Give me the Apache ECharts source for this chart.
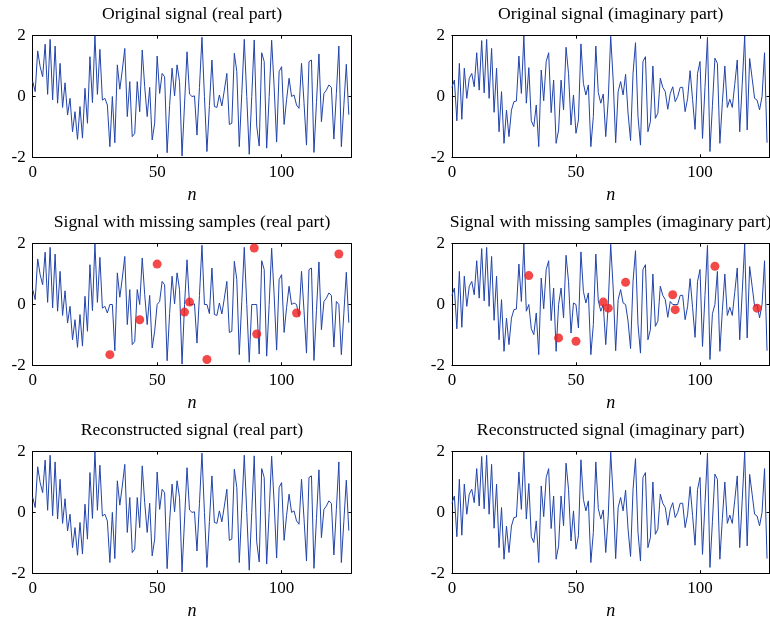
<!DOCTYPE html>
<html><head><meta charset="utf-8">
<script src="https://cdn.jsdelivr.net/npm/echarts@6/dist/echarts.min.js"></script>
<style>html,body{margin:0;padding:0;background:#fff}#c{width:770px;height:623px}</style>
</head><body><div id="c"></div>
<script>
const realPart = [0.5,0.16,1.5,0.98,0.65,1.72,0.07,1.88,-0.11,1.66,-0.22,1.09,-0.36,0.45,-0.61,-0.06,-1.16,-0.5,-1.41,-0.33,
-1.37,0.27,-0.88,1.31,-0.2,2.0,0.07,1.55,-0.12,-0.06,-0.28,-1.65,0.0,-1.52,1.04,0.24,0.87,1.58,-0.66,0.49,
-1.32,-1.21,0.49,-0.5,1.53,0.32,-0.66,0.3,-1.43,-0.88,1.33,0.1,0.76,0.65,-1.85,-0.3,0.93,0.02,1.04,0.49,
-1.96,-0.25,1.47,0.08,0.0,0.02,-1.27,0.3,1.95,0.0,-1.81,-0.3,1.2,-0.33,-0.36,0.05,-0.31,0.21,0.76,-0.92,
-0.88,1.42,0.82,-1.65,0.1,1.88,0.0,-1.9,0.0,1.86,-0.97,-1.63,1.44,1.15,-1.7,0.0,1.85,0.32,-1.5,0.82,
0.98,-0.92,-0.1,0.6,0.0,0.05,-0.28,-0.39,1.09,-0.2,-1.6,1.15,1.2,-1.84,-0.2,1.4,-0.83,0.1,0.21,0.38,
0.3,-1.4,0.1,1.66,-1.65,-0.3,1.06,-0.6];
const imagPart = [0.3,0.54,-0.8,1.09,-0.75,0.93,-0.06,0.6,0.76,0.32,1.44,0.21,1.84,0.12,1.88,-0.06,1.58,-0.52,0.93,-1.16,
0.16,-1.54,-0.45,-1.32,-0.45,-0.17,-0.15,1.33,0.1,1.99,-0.22,0.95,-0.8,-0.99,-0.28,-1.65,0.87,-0.14,1.15,1.44,
-0.53,0.54,-1.54,-1.1,0.54,-0.44,1.62,0.76,-0.94,0.05,-1.21,-0.77,1.73,0.43,0.05,0.38,-1.65,-0.66,1.66,0.13,
-0.22,0.08,-1.32,-0.12,1.98,0.54,-1.52,0.16,0.49,0.05,0.73,-0.55,-1.45,0.76,1.77,-0.66,-1.6,1.15,1.31,-1.16,
-0.83,1.0,-0.72,-0.55,0.6,0.3,0.16,-0.42,0.1,0.32,-0.17,0.0,0.3,0.3,-0.5,-0.06,0.85,-0.1,-1.08,0.76,
1.15,-1.38,0.3,1.95,-1.81,-0.3,1.26,1.09,-1.54,-0.2,1.0,-0.36,-0.09,-0.36,0.4,1.2,-1.16,0.4,1.99,-1.1,
1.25,0.6,-0.06,-0.12,-0.44,0.0,1.44,-1.52];
const missingIdx = [31,43,50,61,63,70,89,90,106,123];
const xTicks = [0,50,100];
const yTicks = [-2,0,2];
const titles = [
 'Original signal (real part)','Original signal (imaginary part)',
 'Signal with missing samples (real part)','Signal with missing samples (imaginary part)',
 'Reconstructed signal (real part)','Reconstructed signal (imaginary part)'
];
const xLabel = 'n';

const N = realPart.length;
const idx = Array.from({length:N},(_,i)=>i);
const withMissing = arr => idx.map(i => missingIdx.includes(i) ? 0 : arr[i]);
const reconReal = realPart.slice();
const reconImag = imagPart.slice();
const lines = [realPart, imagPart, withMissing(realPart), withMissing(imagPart), reconReal, reconImag];
const dots = [null, null, missingIdx.map(i=>[i, realPart[i]]), missingIdx.map(i=>[i, imagPart[i]]), null, null];

const FONT = 'Liberation Serif';
const lefts = [32.7, 451.9];
const widths = [318.6, 317.6];
const tops = [35.7, 243.7, 451.6];
const H = 121.6;

const grid=[], xAxis=[], yAxis=[], series=[], title=[];
for (let g=0; g<6; g++){
  const r = Math.floor(g/2), c = g%2;
  grid.push({left:lefts[c], top:tops[r], width:widths[c], height:H, containLabel:false});
  title.push({text:titles[g], left:lefts[c]+widths[c]/2, top:tops[r]-30, textAlign:'center', padding:0,
    textStyle:{fontFamily:FONT, fontSize:17.7, fontWeight:'normal', color:'#000'}});
  const axLine = {show:true, onZero:false, lineStyle:{color:'#000', width:1}};
  const tick = {show:true, inside:true, length:3, lineStyle:{color:'#000', width:1}};
  xAxis.push({type:'value', gridIndex:g, position:'bottom', min:xTicks[0], max:128, interval:xTicks[1]-xTicks[0],
    axisLine:axLine, axisTick:tick, splitLine:{show:false},
    axisLabel:{fontFamily:FONT, fontSize:17, color:'#000', margin:7, showMaxLabel:false},
    name:xLabel, nameLocation:'middle', nameGap:29,
    nameTextStyle:{fontFamily:FONT, fontSize:18, fontStyle:'italic', color:'#000'}});
  xAxis.push({type:'value', gridIndex:g, position:'top', min:xTicks[0], max:128, interval:xTicks[1]-xTicks[0],
    axisLine:axLine, axisTick:tick, splitLine:{show:false}, axisLabel:{show:false}});
  yAxis.push({type:'value', gridIndex:g, position:'left', min:yTicks[0], max:yTicks[2], interval:yTicks[1]-yTicks[0],
    axisLine:axLine, axisTick:tick, splitLine:{show:false},
    axisLabel:{fontFamily:FONT, fontSize:17, color:'#000', margin:7, formatter: v => String(v)}});
  yAxis.push({type:'value', gridIndex:g, position:'right', min:yTicks[0], max:yTicks[2], interval:yTicks[1]-yTicks[0],
    axisLine:axLine, axisTick:tick, splitLine:{show:false}, axisLabel:{show:false}});
  series.push({type:'line', xAxisIndex:2*g, yAxisIndex:2*g, data: idx.map(i=>[i, lines[g][i]]),
    showSymbol:false, symbol:'none', lineStyle:{color:'#2244aa', width:1}, animation:false, silent:true, z:2});
  if (dots[g]) series.push({type:'scatter', xAxisIndex:2*g, yAxisIndex:2*g, data:dots[g],
    symbol:'circle', symbolSize:9, itemStyle:{color:'#f01c1c'}, animation:false, silent:true, z:3});
}
const chart = echarts.init(document.getElementById('c'), null, {renderer:'canvas'});
chart.setOption({backgroundColor:'#fff', animation:false, title, grid, xAxis, yAxis, series});
</script></body></html>
